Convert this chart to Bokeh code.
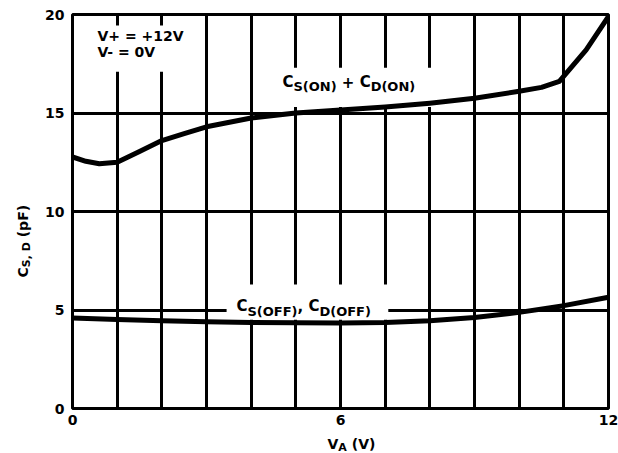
import math
from bokeh.plotting import figure
from bokeh.layouts import row, column
from bokeh.models import Range1d, FixedTicker, Label, BoxAnnotation
from bokeh.embed import file_html
from bokeh.resources import INLINE

# ---- data ----
v_on = [0, 0.3, 0.6, 1.0, 1.5, 2.0, 2.5, 3.0, 4.0, 5.0, 6.0, 7.0, 8.0, 9.0, 10.0, 10.5, 10.9, 11.5, 12.0]
c_on = [12.77, 12.55, 12.42, 12.5, 13.05, 13.6, 13.95, 14.3, 14.75, 15.0, 15.15, 15.3, 15.5, 15.75, 16.1, 16.3, 16.6, 18.2, 19.9]

v_off = [0, 1, 2, 3, 4, 5, 6, 7, 8, 9, 10, 11, 12]
c_off = [4.6, 4.52, 4.45, 4.4, 4.37, 4.35, 4.34, 4.36, 4.45, 4.62, 4.88, 5.22, 5.65]

x_ticks = [0, 6, 12]
y_ticks = [0, 5, 10, 15, 20]
x_grid = list(range(13))
y_grid = [5, 10, 15]

FONT = "DejaVu Sans"
# approximate advance widths of DejaVu Sans Bold (em)
W = {" ": 0.348, "(": 0.457, ")": 0.457, "+": 0.838, ",": 0.380, "-": 0.415, "=": 0.838,
     "A": 0.774, "C": 0.734, "D": 0.830, "F": 0.683, "N": 0.837, "O": 0.850, "S": 0.720,
     "V": 0.774, "p": 0.716}
for d in "0123456789":
    W[d] = 0.696


def tw(s, size):
    return sum(W.get(ch, 0.7) for ch in s) * size


def place(fig, pieces, x, y, angle=0.0):
    off = 0.0
    for text, size, shift in pieces:
        lead = len(text) - len(text.lstrip(" "))
        start = off + lead * W[" "] * size
        if angle == 0.0:
            kw = dict(x_offset=start, y_offset=-shift)
        else:
            kw = dict(x_offset=shift, y_offset=start, angle=angle)
        fig.add_layout(Label(x=x, y=y, text=text.strip(),
                             text_font=FONT, text_font_style="bold",
                             text_font_size=f"{size}px", text_color="black",
                             text_align="left", text_baseline="alphabetic", **kw))
        off += tw(text, size)


# ---------------- main plot ----------------
p = figure(width=578, height=431, x_range=Range1d(0, 12), y_range=Range1d(0, 20),
           output_backend="svg", toolbar_location=None,
           min_border_left=32, min_border_right=10, min_border_top=14, min_border_bottom=23)
p.background_fill_color = "white"
p.border_fill_color = "white"
p.outline_line_color = "black"
p.outline_line_width = 3
p.outline_line_alpha = 1.0

p.xaxis.ticker = FixedTicker(ticks=x_ticks)
p.yaxis.ticker = FixedTicker(ticks=y_ticks)
for ax in (p.xaxis[0], p.yaxis[0]):
    ax.axis_line_color = None
    ax.major_tick_line_color = None
    ax.minor_tick_line_color = None
    ax.major_tick_out = 0
    ax.major_tick_in = 0
    ax.major_label_text_font = FONT
    ax.major_label_text_font_style = "bold"
    ax.major_label_text_font_size = "14px"
    ax.major_label_text_color = "black"
p.xaxis.major_label_standoff = 6
p.yaxis.major_label_standoff = 8

p.xgrid.ticker = FixedTicker(ticks=x_grid)
p.ygrid.ticker = FixedTicker(ticks=y_grid)
for g in (p.xgrid[0], p.ygrid[0]):
    g.grid_line_color = "black"
    g.grid_line_width = 3
    g.grid_line_alpha = 1.0

# white boxes behind the in-plot texts (interrupt the grid)
for (l, r, b, t) in [(0.3, 2.76, 17.1, 19.44), (4.1, 8.9, 15.3, 17.3), (3.45, 7.07, 4.5, 6.3)]:
    p.add_layout(BoxAnnotation(left=l, right=r, bottom=b, top=t, fill_color="white",
                               fill_alpha=1.0, line_color=None, level="underlay"))

p.line(v_on, c_on, line_color="black", line_width=5, line_join="round", line_cap="round")
p.line(v_off, c_off, line_color="black", line_width=5, line_join="round", line_cap="round")

place(p, [("V+ = +12V", 14, 0)], 0.56, 18.93)
place(p, [("V- = 0V", 14, 0)], 0.56, 18.12)
place(p, [("C", 15, 0), ("S(ON)", 13, 5), (" + ", 15, 0), ("C", 15, 0), ("D(ON)", 13, 5)], 4.70, 16.58)
place(p, [("C", 15, 0), ("S(OFF)", 13, 5), (", ", 15, 0), ("C", 15, 0), ("D(OFF)", 13, 5)], 3.67, 5.18)


def text_panel(w, h, xr, yr):
    f = figure(width=w, height=h, x_range=Range1d(*xr), y_range=Range1d(*yr),
               output_backend="svg", toolbar_location=None,
               x_axis_location=None, y_axis_location=None,
               min_border=0, min_border_left=0, min_border_right=0,
               min_border_top=0, min_border_bottom=0)
    f.outline_line_color = None
    f.background_fill_color = "white"
    f.border_fill_color = "white"
    f.grid.visible = False
    return f


# y-axis title panel (page pixel coordinates, y downward)
ylab = text_panel(40, 453, (0, 40), (453, 0))
place(ylab, [("C", 14, 0), ("S, D", 11, 4), (" (pF)", 14, 0)], 22, 277, angle=math.pi / 2)

# x-axis title panel
xlab = text_panel(578, 22, (40, 618), (453, 431))
place(xlab, [("V", 14, 0), ("A", 11, 4), (" (V)", 14, 0)], 315, 443)

layout = row(ylab, column(p, xlab, spacing=0), spacing=0)

open("out.html", "w").write(file_html(layout, INLINE))
